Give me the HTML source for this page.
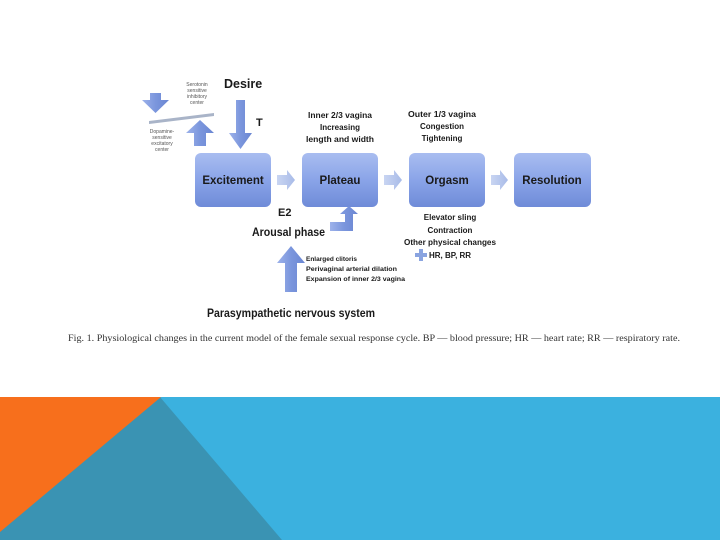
<!DOCTYPE html>
<html><head><meta charset="utf-8"><style>
html,body{margin:0;padding:0;background:#fff;width:720px;height:540px;overflow:hidden}
svg{display:block}
text{font-family:"Liberation Sans",sans-serif}
</style></head><body>
<svg width="720" height="540" viewBox="0 0 720 540" xmlns="http://www.w3.org/2000/svg">
<defs>
<linearGradient id="bx" x1="0" y1="0" x2="0" y2="1">
<stop offset="0" stop-color="#a9bdf0"/><stop offset="0.5" stop-color="#8aa4e8"/><stop offset="1" stop-color="#6f8bd8"/></linearGradient>
<linearGradient id="ar" x1="0" y1="0" x2="1" y2="0">
<stop offset="0" stop-color="#c9d5f2"/><stop offset="1" stop-color="#a8bbe8"/></linearGradient>
<linearGradient id="av" x1="0" y1="0" x2="1" y2="0">
<stop offset="0" stop-color="#9db2ea"/><stop offset="0.5" stop-color="#7b96dd"/><stop offset="1" stop-color="#6a86d2"/></linearGradient>
</defs>
<rect x="195" y="153" width="76" height="54" rx="6" fill="url(#bx)"/>
<rect x="302" y="153" width="76" height="54" rx="6" fill="url(#bx)"/>
<rect x="409" y="153" width="76" height="54" rx="6" fill="url(#bx)"/>
<rect x="514" y="153" width="77" height="54" rx="6" fill="url(#bx)"/>
<g font-weight="bold" font-size="11.5" fill="#1a1a1a" text-anchor="middle">
<text x="233" y="184">Excitement</text>
<text x="340" y="184">Plateau</text>
<text x="447" y="184">Orgasm</text>
<text x="552" y="184">Resolution</text>
</g>
<polygon points="277,175 287,175 287,170 295,180 287,190 287,185 277,185" fill="url(#ar)"/>
<polygon points="384,175 394,175 394,170 402,180 394,190 394,185 384,185" fill="url(#ar)"/>
<polygon points="491,175 500,175 500,170 508,180 500,190 500,185 491,185" fill="url(#ar)"/>
<polygon points="236,100 245,100 245,133 252,133 240.5,149 229,133 236,133" fill="url(#av)"/>
<polygon points="150,93 161,93 161,100 169,100 155.5,113 142,100 150,100" fill="url(#av)"/>
<polygon points="194,146 206,146 206,133 214,133 200,120 186,133 194,133" fill="url(#av)"/>
<polygon points="149,121 214,113 214,116 149,124" fill="#a9b4c8"/>
<polygon points="330,222 345,222 345,214 340,214 349,206 358,214 353,214 353,231 330,231" fill="url(#av)"/>
<polygon points="285,292 297,292 297,263 305,263 291,246 277,263 285,263" fill="url(#av)"/>
<polygon points="419,249 423,249 423,253 427,253 427,257 423,257 423,261 419,261 419,257 415,257 415,253 419,253" fill="#8aa4e0"/>
<g fill="#1a1a1a">
<text x="224" y="88" font-size="12.5" font-weight="bold">Desire</text>
<text x="256" y="126" font-size="11" font-weight="bold">T</text>
<text x="278" y="216" font-size="11" font-weight="bold">E2</text>
<text x="252" y="236" font-size="11.5" font-weight="bold" textLength="73" lengthAdjust="spacingAndGlyphs">Arousal phase</text>
<text x="207" y="317" font-size="11.5" font-weight="bold" textLength="168" lengthAdjust="spacingAndGlyphs">Parasympathetic nervous system</text>
<g font-size="5" text-anchor="middle" fill="#555">
<text x="197" y="86">Serotonin</text><text x="197" y="92">sensitive</text><text x="197" y="98">inhibitory</text><text x="197" y="104">center</text>
<text x="162" y="133">Dopamine-</text><text x="162" y="139">sensitive</text><text x="162" y="145">excitatory</text><text x="162" y="151">center</text>
</g>
<g font-size="8" text-anchor="middle" font-weight="bold">
<text x="340" y="118" textLength="64" lengthAdjust="spacingAndGlyphs">Inner 2/3 vagina</text><text x="340" y="130">Increasing</text><text x="340" y="142" textLength="68" lengthAdjust="spacingAndGlyphs">length and width</text>
<text x="442" y="117" textLength="68" lengthAdjust="spacingAndGlyphs">Outer 1/3 vagina</text><text x="442" y="129">Congestion</text><text x="442" y="141">Tightening</text>
<text x="450" y="220">Elevator sling</text><text x="450" y="233">Contraction</text><text x="450" y="245" textLength="92" lengthAdjust="spacingAndGlyphs">Other physical changes</text>
</g>
<text x="429" y="258" font-size="8" font-weight="bold">HR, BP, RR</text>
<g font-size="6.5" font-weight="bold">
<text x="306" y="261">Enlarged clitoris</text><text x="306" y="271" textLength="91" lengthAdjust="spacingAndGlyphs">Perivaginal arterial dilation</text><text x="306" y="281" textLength="99" lengthAdjust="spacingAndGlyphs">Expansion of inner 2/3 vagina</text>
</g>
<text x="68" y="341" font-size="9" fill="#333" textLength="612" lengthAdjust="spacingAndGlyphs" style="font-family:'Liberation Serif',serif">Fig. 1. Physiological changes in the current model of the female sexual response cycle. BP — blood pressure; HR — heart rate; RR — respiratory rate.</text>
</g>
<rect x="0" y="397" width="720" height="143" fill="#3bb1df"/>
<polygon points="160,397 282,540 0,540 0,530" fill="#3a93b3"/>
<polygon points="0,397 161,397 0,532" fill="#f76f1c"/>
</svg>
</body></html>
